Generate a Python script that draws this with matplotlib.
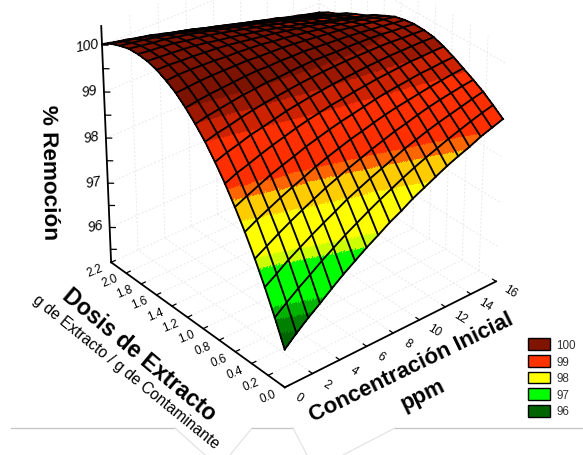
import numpy as np
import matplotlib
matplotlib.use("Agg")
import matplotlib.pyplot as plt
from matplotlib.colors import ListedColormap, BoundaryNorm
from matplotlib.lines import Line2D
from matplotlib.patches import Patch
from mpl_toolkits.mplot3d import proj3d

plt.rcParams['font.family'] = ['Liberation Sans', 'DejaVu Sans']

# ---------- data ----------
conc_lim = (0.0, 16.0)
dose_lim = (0.0, 2.2)
z_lim = (95.2, 100.4)
conc_ticks = [0, 2, 4, 6, 8, 10, 12, 14, 16]
dose_ticks = [0.0, 0.2, 0.4, 0.6, 0.8, 1.0, 1.2, 1.4, 1.6, 1.8, 2.0, 2.2]
z_major = [96, 97, 98, 99, 100]
z_minor = [95.5, 96, 96.5, 97, 97.5, 98, 98.5, 99, 99.5, 100]

# rows: concentration grid line, columns: dose grid line (20 x 20 mesh)
removal = [
 [96.04,96.59,97.10,97.57,98.00,98.39,98.75,99.07,99.36,99.60,99.81,99.99,100.12,100.22,100.28,100.30,100.29,100.23,100.15,100.02],
 [96.27,96.79,97.27,97.72,98.14,98.51,98.86,99.16,99.43,99.66,99.85,100.01,100.14,100.22,100.26,100.27,100.25,100.19,100.10,99.96],
 [96.48,96.98,97.45,97.87,98.26,98.62,98.94,99.23,99.48,99.70,99.88,100.03,100.14,100.20,100.24,100.25,100.21,100.15,100.05,99.91],
 [96.67,97.15,97.60,98.01,98.38,98.73,99.03,99.31,99.54,99.74,99.90,100.04,100.13,100.19,100.22,100.22,100.18,100.10,100.00,99.85],
 [96.87,97.33,97.75,98.14,98.49,98.82,99.11,99.36,99.59,99.78,99.92,100.04,100.12,100.17,100.19,100.17,100.13,100.05,99.93,99.80],
 [97.06,97.49,97.89,98.26,98.59,98.90,99.18,99.42,99.63,99.80,99.94,100.04,100.10,100.15,100.15,100.13,100.08,99.99,99.87,99.73],
 [97.23,97.65,98.02,98.38,98.70,98.99,99.25,99.48,99.66,99.83,99.95,100.04,100.09,100.12,100.10,100.08,100.02,99.92,99.81,99.66],
 [97.40,97.79,98.16,98.48,98.79,99.06,99.31,99.52,99.69,99.83,99.94,100.02,100.07,100.08,100.06,100.03,99.96,99.86,99.75,99.60],
 [97.55,97.93,98.27,98.58,98.87,99.13,99.36,99.56,99.72,99.85,99.95,100.01,100.05,100.04,100.01,99.97,99.90,99.80,99.67,99.53],
 [97.71,98.06,98.38,98.67,98.95,99.19,99.41,99.59,99.74,99.86,99.94,100.00,100.01,100.00,99.96,99.91,99.83,99.73,99.61,99.46],
 [97.84,98.18,98.48,98.76,99.01,99.24,99.44,99.62,99.76,99.87,99.94,99.98,99.98,99.96,99.91,99.85,99.77,99.66,99.54,99.39],
 [97.99,98.30,98.58,98.84,99.08,99.29,99.48,99.64,99.77,99.86,99.92,99.95,99.94,99.91,99.85,99.79,99.71,99.59,99.47,99.32],
 [98.11,98.41,98.68,98.92,99.14,99.34,99.51,99.66,99.78,99.85,99.90,99.92,99.90,99.86,99.78,99.72,99.63,99.51,99.40,99.25],
 [98.23,98.51,98.76,98.98,99.19,99.38,99.54,99.68,99.78,99.85,99.88,99.89,99.86,99.81,99.73,99.66,99.57,99.45,99.33,99.19],
 [98.35,98.60,98.84,99.05,99.23,99.41,99.56,99.69,99.78,99.84,99.86,99.86,99.81,99.76,99.66,99.59,99.49,99.37,99.25,99.12],
 [98.45,98.69,98.91,99.11,99.27,99.44,99.58,99.70,99.78,99.83,99.83,99.82,99.77,99.69,99.59,99.52,99.42,99.29,99.19,99.06],
 [98.54,98.77,98.97,99.16,99.31,99.47,99.60,99.70,99.77,99.81,99.80,99.78,99.72,99.64,99.53,99.45,99.35,99.23,99.11,98.98],
 [98.65,98.85,99.03,99.20,99.34,99.48,99.60,99.70,99.75,99.78,99.77,99.73,99.67,99.57,99.46,99.38,99.28,99.16,99.05,98.92],
 [98.73,98.92,99.09,99.24,99.37,99.50,99.61,99.70,99.74,99.76,99.73,99.69,99.61,99.52,99.38,99.30,99.20,99.07,98.98,98.85],
 [98.81,98.98,99.14,99.27,99.39,99.51,99.61,99.69,99.72,99.73,99.70,99.65,99.55,99.45,99.32,99.23,99.13,99.00,98.91,98.79],
]

band_edges = [90, 96.32, 96.56, 96.77, 97.41, 97.59, 98.17, 98.50, 98.67, 99.35, 99.6, 99.8, 101]
band_colors = ['#006400', '#008000', '#00b400', '#00ff00', '#ccff00', '#ffff00',
               '#ffcc00', '#ff6600', '#ff2f00', '#cc2200', '#9c1800', '#7c1200']
legend_labels = ['100', '99', '98', '97', '96']
legend_colors = ['#7f1500', '#ff3300', '#ffff00', '#00ff00', '#006400']

# ---------- figure ----------
W, H = 583, 456
fig = plt.figure(figsize=(W / 100, H / 100), dpi=100, facecolor='white')
S = 456
ax = fig.add_axes([68.5 / W, 64.5 / H, S / W, S / H], projection='3d', computed_zorder=False)
ax.set_proj_type('persp', focal_length=1.2)
ax.view_init(elev=32.3, azim=-130)
ax.set_box_aspect((1, 1, 1.0), zoom=1.033)
ax.set_xlim(*conc_lim, view_margin=0)
ax.set_ylim(*dose_lim, view_margin=0)
ax.set_zlim(*z_lim, view_margin=0)
ax.set_axis_off()
ax.patch.set_alpha(0)

Z = np.array(removal)
conc = np.linspace(*conc_lim, Z.shape[0])
dose = np.linspace(*dose_lim, Z.shape[1])

# faint wall and floor grid
gk = dict(color='#e9e9e9', lw=0.7, ls=(0, (2, 2)), zorder=1)
c0, c1 = conc_lim
d0, d1 = dose_lim
z0, z1 = z_lim
for zt in z_major:
    ax.plot([c0, c1], [d1, d1], [zt, zt], **gk)
    ax.plot([c1, c1], [d0, d1], [zt, zt], **gk)
for ct in conc_ticks[1:]:
    ax.plot([ct, ct], [d0, d1], [z0, z0], **gk)
    ax.plot([ct, ct], [d1, d1], [z0, z1], **gk)
for dt in dose_ticks[1:]:
    ax.plot([c0, c1], [dt, dt], [z0, z0], **gk)
    ax.plot([c1, c1], [dt, dt], [z0, z1], **gk)

# surface: table resampled only to draw the colour bands inside the cells
sub = 14
fc = np.linspace(*conc_lim, (len(conc) - 1) * sub + 1)
fd = np.linspace(*dose_lim, (len(dose) - 1) * sub + 1)
tmp = np.array([np.interp(fd, dose, row) for row in Z])
ZF = np.array([np.interp(fc, conc, col) for col in tmp.T]).T
XF, YF = np.meshgrid(fc, fd, indexing='ij')
cmap = ListedColormap(band_colors)
norm = BoundaryNorm(band_edges, cmap.N)
ZC = (ZF[:-1, :-1] + ZF[1:, :-1] + ZF[:-1, 1:] + ZF[1:, 1:]) / 4
surf = ax.plot_surface(XF, YF, ZF, facecolors=cmap(norm(ZC)), rstride=1, cstride=1,
                       shade=False, linewidth=0.25, antialiased=False, zorder=3)

# mesh lines
for i, c in enumerate(conc):
    ax.plot(np.full_like(dose, c), dose, Z[i, :], color='black', lw=1.35, zorder=4)
for j, d in enumerate(dose):
    ax.plot(conc, np.full_like(conc, d), Z[:, j], color='black', lw=1.35, zorder=4)

# axes
ak = dict(color='black', lw=1.3, zorder=5)
ax.plot([c0, c0], [d1, d1], [z0, z1], **ak)
ax.plot([c0, c0], [d0, d1], [z0, z0], **ak)
ax.plot([c0, c1], [d0, d0], [z0, z0], **ak)
tk = dict(color='black', lw=0.9, zorder=5)
for dt in dose_ticks:
    ax.plot([c0, c0 + 0.3], [dt, dt], [z0, z0], **tk)
for ct in conc_ticks:
    ax.plot([ct, ct], [d0, d0 + 0.04], [z0, z0], **tk)
for zt in z_minor:
    ax.plot([c0, c0 + 0.25], [d1, d1 - 0.03], [zt, zt], **tk)


# tick labels: 3D anchor projected through the axes' own camera
def label3d(x, y, z, s, **kw):
    px, py, _ = proj3d.proj_transform(x, y, z, ax.get_proj())
    ax.text2D(px, py, s, transform=ax.transData, ha='center', va='center', zorder=6, **kw)


for dt in dose_ticks:
    label3d(c0 - 1.2, dt, z0, f'{dt:.1f}', fontsize=8.5, rotation=22)
for ct in conc_ticks:
    label3d(ct, d0 - 0.17, z0, f'{ct:d}', fontsize=8.5, rotation=-32)
for zt in z_major:
    label3d(c0, d1 + 0.2, zt - 0.2, f'{zt:d}', fontsize=10, rotation=10, style='italic')


def ftext(x, y, s, **kw):
    fig.text(x / W, 1 - y / H, s, ha='center', va='center', rotation_mode='anchor', **kw)


ftext(49, 172, '% Remoción', fontsize=16.2, fontweight='bold', rotation=-89)
ftext(139, 355, 'Dosis de Extracto', fontsize=16.5, fontweight='bold', rotation=-40)
ftext(126, 372, 'g de Extracto / g de Contaminante', fontsize=11.2, rotation=-39)
ftext(411, 368, 'Concentración Inicial', fontsize=16, fontweight='bold', rotation=26)
ftext(423, 395, 'ppm', fontsize=16, fontweight='bold', rotation=26)

# stray light lines at the bottom of the picture
for xs, ys, col in [([11, 175], [429, 429], '#c4c4c4'),
                    ([175, 205], [429, 456], '#e4e4e4'),
                    ([230, 252], [456, 429], '#e4e4e4'),
                    ([252, 293], [429, 429], '#c4c4c4'),
                    ([293, 307], [429, 456], '#e4e4e4'),
                    ([343, 395], [456, 429], '#e4e4e4'),
                    ([395, 583], [429, 429], '#c4c4c4')]:
    fig.add_artist(Line2D(np.array(xs) / W, 1 - np.array(ys) / H, color=col, lw=0.9))

handles = [Patch(facecolor=c, edgecolor='black', lw=1.0) for c in legend_colors]
fig.legend(handles, legend_labels, loc='lower left', bbox_to_anchor=(524 / W, 1 - 422 / H),
           frameon=False, fontsize=8.4, handlelength=1.9, handleheight=1.2,
           labelspacing=0.31, handletextpad=0.55, borderpad=0.3, borderaxespad=0,
           labelcolor='#333333')

fig.savefig('out.png', dpi=100, facecolor='white')
